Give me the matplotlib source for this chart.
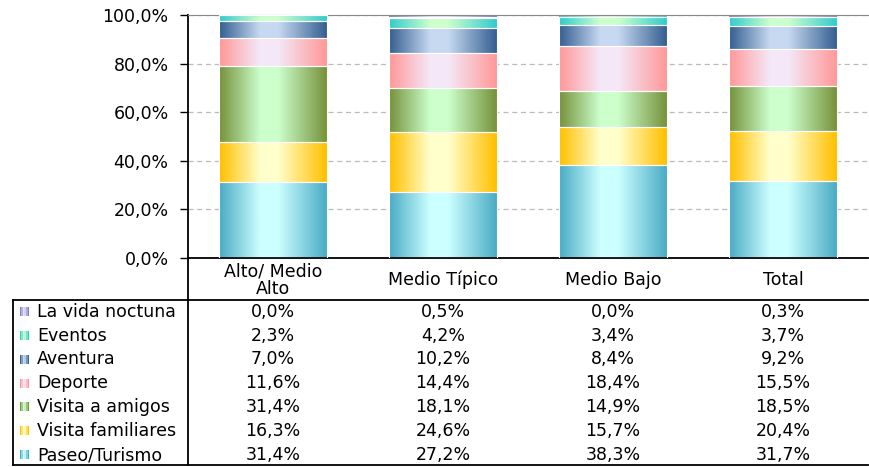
import numpy as np
import matplotlib
matplotlib.use("Agg")
from matplotlib import pyplot as plt
from matplotlib import ticker
from matplotlib.patches import Rectangle
from matplotlib.lines import Line2D
from matplotlib.colors import to_rgb
from matplotlib.transforms import blended_transform_factory

CATEGORIES = ["Alto/ Medio\nAlto", "Medio Típico", "Medio Bajo", "Total"]
SERIES = ["Paseo/Turismo", "Visita familiares", "Visita a amigos", "Deporte",
          "Aventura", "Eventos", "La vida noctuna"]
paseo = [31.4, 27.2, 38.3, 31.7]
familiares = [16.3, 24.6, 15.7, 20.4]
amigos = [31.4, 18.1, 14.9, 18.5]
deporte = [11.6, 14.4, 18.4, 15.5]
aventura = [7.0, 10.2, 8.4, 9.2]
eventos = [2.3, 4.2, 3.4, 3.7]
noctuna = [0.0, 0.5, 0.0, 0.3]
VALUES = [paseo, familiares, amigos, deporte, aventura, eventos, noctuna]

# (edge colour, centre colour) for the horizontal gradient
COLORS = [
    ("#4BACC6", "#CCFFFF"),
    ("#FFC000", "#FFFFCC"),
    ("#77933C", "#CCFFCC"),
    ("#FF9999", "#F4E8F8"),
    ("#376092", "#C6D9F1"),
    ("#33CCCC", "#CCFFCC"),
    ("#8080C0", "#E0E0F8"),
]

FONT = 12.5
W, H = 870, 467


def gradient(edge, centre, n=64):
    t = np.linspace(0, 1, n)
    # dark at both edges, light plateau a bit left of centre
    w = np.interp(t, [0, 0.38, 0.55, 1.0], [0, 1, 1, 0])
    e, c = np.array(to_rgb(edge)), np.array(to_rgb(centre))
    return (e[None, :] * (1 - w[:, None]) + c[None, :] * w[:, None])[None, :, :]


def px(x, y):
    return x / W, 1 - y / H


plt.rcParams.update({"font.size": FONT, "font.family": "DejaVu Sans"})
fig = plt.figure(figsize=(W / 100, H / 100), dpi=100)
l, b = px(188, 258)
r, t = px(868, 15)
ax = fig.add_axes([l, b, r - l, t - b])

x = np.arange(len(CATEGORIES))
bottom = np.zeros(len(CATEGORIES))
for vals, (edge, centre) in zip(VALUES, COLORS):
    frac = np.array(vals) / 100
    bars = ax.bar(x, frac, bottom=bottom, width=0.63, color="none",
                  edgecolor="white", linewidth=0.8, zorder=3)
    for p in bars:
        if p.get_height() <= 0:
            continue
        x0, y0 = p.get_x(), p.get_y()
        ax.imshow(gradient(edge, centre), extent=[x0, x0 + p.get_width(), y0, y0 + p.get_height()],
                  aspect="auto", zorder=2, interpolation="bilinear")
    bottom += frac

ax.set_xlim(-0.5, len(CATEGORIES) - 0.5)
ax.set_ylim(0, 1)
ax.set_yticks([0, 0.2, 0.4, 0.6, 0.8, 1.0])
ax.yaxis.set_major_formatter(ticker.FuncFormatter(lambda v, _: f"{v * 100:.1f}%".replace(".", ",")))
ax.set_xticks([])
ax.tick_params(axis="y", direction="out", length=6, width=1, pad=8, labelsize=FONT)
ax.grid(axis="y", linestyle=(0, (4, 3)), color="#BBBBBB", linewidth=0.9, zorder=0)
ax.set_axisbelow(True)
ax.spines["right"].set_visible(False)
ax.spines["top"].set_color("#888888")
ax.spines["left"].set_linewidth(1.3)
ax.spines["bottom"].set_linewidth(1.3)

# data table below the axes
tr = blended_transform_factory(ax.transData, fig.transFigure)
for i, cat in enumerate(CATEGORIES):
    fig.text(i, 1 - 280 / H, cat, transform=tr, ha="center", va="center",
             fontsize=FONT, linespacing=1.0)

row_y = [312, 336, 359.5, 383.5, 407, 431, 455]
for k, si in enumerate(reversed(range(len(SERIES)))):
    y = row_y[k]
    edge, centre = COLORS[si]
    g = gradient(edge, centre, 6)[0]
    for j in range(6):
        fig.add_artist(Rectangle(px(20 + j * 1.5, y + 4), 1.5 / W, 9 / H, transform=fig.transFigure,
                                 facecolor=g[j], edgecolor="none"))
    fig.text(37 / W, 1 - y / H, SERIES[si], ha="left", va="center", fontsize=FONT)
    for i in range(len(CATEGORIES)):
        txt = f"{VALUES[si][i]:.1f}%".replace(".", ",")
        fig.text(i, 1 - y / H, txt, transform=tr, ha="center", va="center", fontsize=FONT)

lines = [
    ((13, 868), (300, 300), 1.3),
    ((13, 868), (465, 465), 1.3),
    ((13, 13), (300, 465), 1.3),
    ((188, 188), (258, 465), 1.3),
]
for xs, ys, lw in lines:
    fig.add_artist(Line2D([v / W for v in xs], [1 - v / H for v in ys],
                          transform=fig.transFigure, color="black", linewidth=lw))

fig.savefig("out.png", dpi=100)
